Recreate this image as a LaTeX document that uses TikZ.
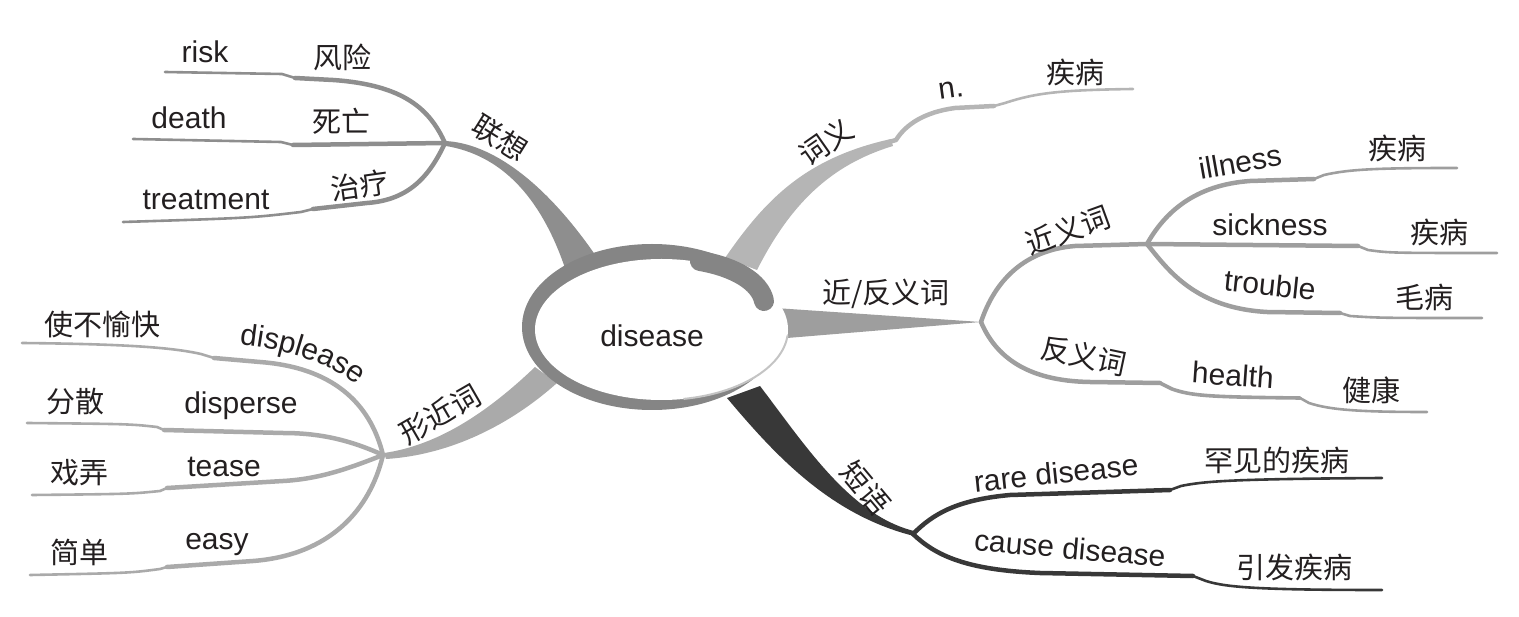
\documentclass[tikz,border=0pt]{standalone}
\usepackage{fontspec}
\setmainfont{Liberation Sans}
\newfontfamily\cjk{Noto Sans CJK SC}
\usetikzlibrary{decorations.text}
\definecolor{txt}{HTML}{231F20}
\definecolor{cA}{HTML}{8E8E8E}
\definecolor{cB}{HTML}{B5B5B5}
\definecolor{cC}{HTML}{9E9E9E}
\definecolor{cD}{HTML}{383838}
\definecolor{cE}{HTML}{AAAAAA}
\definecolor{ring}{HTML}{858585}
\definecolor{rim}{HTML}{C4C4C4}
\begin{document}
\begin{tikzpicture}[x=1pt,y=-1pt,
  en/.style={text=txt, font=\fontsize{30}{30}\selectfont, inner sep=0pt},
  zh/.style={text=txt, font=\cjk\fontsize{29}{29}\selectfont, inner sep=0pt},
  thickln/.style={line width=4.5pt, line cap=round, line join=round},
  thinln/.style={line width=2.6pt, line cap=round, line join=round}]
\useasboundingbox (0,0) rectangle (1519,617);

% junctions and ends
\coordinate (J1) at (445,143);
\coordinate (Jw) at (889,142);
\coordinate (Jn) at (981,322);
\coordinate (J2) at (1147,244);
\coordinate (J3) at (913,534);
\coordinate (J5) at (383,455);
\coordinate (C) at (652,327);
\coordinate (W) at (661.5,329.5);
\coordinate (eRisk) at (165,72);
\coordinate (eDeath) at (133,139);
\coordinate (eTreat) at (123,222);
\coordinate (eN) at (1133,89);
\coordinate (eIll) at (1457,168);
\coordinate (eSick) at (1497,253);
\coordinate (eTrou) at (1482,318);
\coordinate (eAnt) at (1427,412);
\coordinate (eRare) at (1382,478);
\coordinate (eCause) at (1382,590);
\coordinate (eDispl) at (22,343);
\coordinate (eDisp) at (27,423);
\coordinate (eTease) at (32,495);
\coordinate (eEasy) at (30,575);

% trunks
\fill[cA] (445,141) .. controls (490,143) and (545,180) .. (600,262) -- (565,268) .. controls (540,195) and (500,155) .. (446,146) -- cycle;
\fill[cB] (725,258) .. controls (765,200) and (805,158) .. (891,139) -- (893,146) .. controls (830,165) and (790,205) .. (757,270) -- cycle;
\fill[cC] (775,308) -- (Jn) -- (775,339) -- cycle;
\fill[cD] (727,398) .. controls (775,455) and (830,515) .. (914,536) -- (914,531) .. controls (850,515) and (805,445) .. (760,386) -- cycle;
\fill[cE] (384,453) .. controls (440,445) and (490,410) .. (535,367) -- (557,383) .. controls (510,425) and (450,455) .. (386,459) -- cycle;

% central ellipse
\fill[ring] (C) ellipse [x radius=130, y radius=83];
\fill[white] (W) ellipse [x radius=126.5, y radius=70.5];
\draw[rim, line width=2pt] (W) ++(5:126.5 and 70.5) arc [start angle=5, end angle=80, x radius=126.5, y radius=70.5];
\draw[ring, line width=20pt, line cap=round] (700,261) .. controls (735,267) and (760,282) .. (764,301);
\node[en] (disease) at (652,336) {disease};

% 联想 branch
\draw[cA,thickln] (J1) .. controls (430,110) and (405,85) .. (333,80) -- (295,78);
\draw[cA,thinln] (295,78) -- (282,74) -- (eRisk);
\draw[cA,thickln] (J1) -- (293,145);
\draw[cA,thinln] (293,145) -- (281,142) -- (eDeath);
\draw[cA,thickln] (J1) .. controls (430,175) and (410,200) .. (367,203) -- (313,209);
\draw[cA,thinln] (313,209) -- (301,212) .. controls (250,218) .. (eTreat);
\node[zh, rotate=-32] (lx) at (500,138) {联想};
\node[en] (risk) at (205,52) {risk};
\node[zh] (fx) at (342,57) {风险};
\node[en] (death) at (189,118) {death};
\node[zh] (sw) at (341,121) {死亡};
\node[en] (treat) at (206,200) {treatment};
\node[zh, rotate=8] (zl) at (360,186) {治疗};

% 词义 branch
\draw[cB,thickln] (Jw) -- (896,140) .. controls (906,124) and (925,112) .. (955,108) -- (994,106);
\draw[cB,thinln] (994,106) -- (1005,103) .. controls (1035,93) and (1060,90) .. (eN);
\node[zh, rotate=35] (cy) at (826,142) {词义};
\node[en, rotate=8] (pos) at (951,90) {n.};
\node[zh] (jb1) at (1075,72) {疾病};

% 近/反义词 branch
\draw[cC,thickln] (Jn) .. controls (995,280) and (1025,250) .. (1075,246) -- (J2);
\draw[cC,thickln] (J2) .. controls (1165,212) and (1195,185) .. (1250,181) -- (1314,179);
\draw[cC,thinln] (1314,179) -- (1324,175) .. controls (1350,169) and (1380,168) .. (eIll);
\draw[cC,thickln] (J2) -- (1358,246);
\draw[cC,thinln] (1358,246) -- (1368,250) .. controls (1390,253) .. (eSick);
\draw[cC,thickln] (J2) .. controls (1168,270) and (1195,308) .. (1267,312) -- (1340,313);
\draw[cC,thinln] (1340,313) -- (1350,316) .. controls (1380,318) .. (eTrou);
\draw[cC,thickln] (Jn) .. controls (995,355) and (1025,381) .. (1090,382) -- (1160,383);
\draw[cC,line width=3.6pt,line cap=round,line join=round] (1160,383) -- (1172,389) .. controls (1192,396) and (1210,397) .. (1300,398);
\draw[cC,thinln] (1300,398) -- (1309,403) .. controls (1330,410) and (1360,412) .. (eAnt);
\node[zh] (jf) at (886,294) {近/反义词};
\node[zh, rotate=20] (jy) at (1068,230) {近义词};
\node[en, rotate=10] (ill) at (1240,162) {illness};
\node[zh] (jb2) at (1397,148) {疾病};
\node[en] (sick) at (1270,225) {sickness};
\node[zh] (jb3) at (1439,232) {疾病};
\node[en, rotate=-6] (trou) at (1270,285) {trouble};
\node[zh] (mb) at (1424,297) {毛病};
\node[zh, rotate=-12] (fy) at (1084,356) {反义词};
\node[en, rotate=-4] (health) at (1233,375) {health};
\node[zh] (jk) at (1371,390) {健康};

% 短语 branch
\draw[cD,thickln] (J3) .. controls (932,515) and (955,500) .. (1010,495) -- (1170,490);
\draw[cD,thinln] (1170,490) -- (1181,486) .. controls (1205,481) and (1235,479) .. (eRare);
\draw[cD,thickln] (J3) .. controls (935,555) and (965,570) .. (1040,573) -- (1193,576);
\draw[cD,thinln] (1193,576) -- (1206,581) .. controls (1225,587) and (1255,590) .. (eCause);
\node[zh, rotate=-50] (dy) at (866,488) {短语};
\node[en, rotate=6] (rare) at (1056,473) {rare disease};
\node[zh] (hj) at (1277,460) {罕见的疾病};
\node[en, rotate=-5] (cause) at (1070,548) {cause disease};
\node[zh] (yf) at (1294,567) {引发疾病};

% 形近词 branch
\draw[cE,thickln] (J5) .. controls (372,410) and (340,368) .. (260,362) -- (214,358);
\draw[cE,thinln] (214,358) -- (201,354) .. controls (170,347) and (120,344) .. (eDispl);
\draw[cE,thickln] (J5) .. controls (350,440) and (320,433) .. (283,433) -- (164,430);
\draw[cE,thinln] (164,430) -- (157,427) .. controls (130,424) .. (eDisp);
\draw[cE,thickln] (J5) .. controls (350,468) and (320,479) .. (283,481) -- (167,488);
\draw[cE,thinln] (167,488) -- (160,491) .. controls (130,494) .. (eTease);
\draw[cE,thickln] (J5) .. controls (370,510) and (330,555) .. (253,561) -- (167,567);
\draw[cE,thinln] (167,567) -- (160,569) .. controls (130,573) .. (eEasy);
\node[zh, rotate=30] (xj) at (440,414) {形近词};
\node[zh] (sbyk) at (102,324) {使不愉快};
\path[decorate, decoration={text along path, text align=center,
  text={|\fontsize{30}{30}\selectfont\color{txt}|displease}}]
  (226,343) .. controls (280,347) and (330,360) .. (368,394);
\node[zh] (fs) at (75,402) {分散};
\node[en] (disp) at (241,406) {disperse};
\node[zh] (xn) at (79,473) {戏弄};
\node[en] (tease) at (224,467) {tease};
\node[zh] (jd) at (79,552) {简单};
\node[en] (easy) at (217,545) {easy};
\end{tikzpicture}
\end{document}
